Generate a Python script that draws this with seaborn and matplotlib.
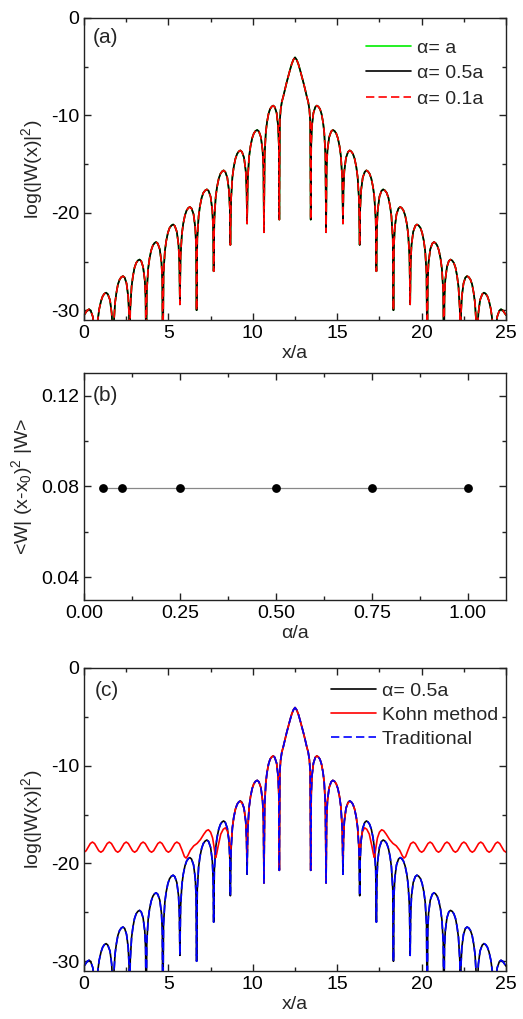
import matplotlib
matplotlib.use("Agg")
import matplotlib.pyplot as plt
from matplotlib.ticker import MultipleLocator, FormatStrFormatter
import seaborn as sns

# ---- panel (a)/(c): log(|W(x)|^2), all alpha curves coincide ----
x_w = [
    0.00, 0.10, 0.20, 0.30, 0.40, 0.52, 0.62, 0.67, 0.70,
    0.74, 0.82, 0.90, 1.01, 1.11, 1.21, 1.31, 1.41, 1.54, 1.64, 1.69, 1.72,
    1.76, 1.84, 1.92, 2.01, 2.11, 2.21, 2.31, 2.41, 2.52, 2.62, 2.67, 2.70,
    2.74, 2.82, 2.90, 2.99, 3.09, 3.19, 3.29, 3.39, 3.50, 3.60, 3.65, 3.68,
    3.72, 3.80, 3.88, 3.98, 4.08, 4.18, 4.27, 4.37, 4.49, 4.59, 4.64, 4.67,
    4.71, 4.79, 4.87, 4.97, 5.07, 5.18, 5.28, 5.38, 5.50, 5.60, 5.65, 5.68,
    5.72, 5.80, 5.88, 5.98, 6.08, 6.18, 6.27, 6.37, 6.49, 6.59, 6.64, 6.67,
    6.71, 6.79, 6.87, 6.97, 7.07, 7.18, 7.28, 7.38, 7.50, 7.60, 7.65, 7.68,
    7.72, 7.80, 7.88, 7.98, 8.08, 8.18, 8.27, 8.37, 8.49, 8.59, 8.64, 8.67,
    8.71, 8.79, 8.87, 8.97, 9.07, 9.17, 9.26, 9.36, 9.48, 9.58, 9.63, 9.66,
    9.70, 9.78, 9.86, 9.96, 10.06, 10.16, 10.26, 10.36, 10.48, 10.58, 10.63, 10.66,
    10.70, 10.77, 10.84, 10.93, 11.02, 11.12, 11.21, 11.30, 11.41, 11.50, 11.54, 11.57,
    11.60, 11.65, 11.72, 11.80, 11.90, 12.00, 12.10, 12.20, 12.30, 12.40, 12.50,
    12.60, 12.70, 12.80, 12.90, 13.00, 13.10, 13.20, 13.28, 13.35, 13.40, 13.43,
    13.46, 13.50, 13.59, 13.70, 13.79, 13.88, 13.98, 14.07, 14.16, 14.23, 14.30, 14.34,
    14.37, 14.42, 14.52, 14.64, 14.74, 14.84, 14.94, 15.04, 15.14, 15.22, 15.30, 15.34,
    15.37, 15.42, 15.52, 15.64, 15.74, 15.83, 15.93, 16.03, 16.13, 16.21, 16.29, 16.33,
    16.36, 16.41, 16.51, 16.63, 16.73, 16.82, 16.92, 17.02, 17.12, 17.20, 17.28, 17.32,
    17.35, 17.40, 17.50, 17.62, 17.72, 17.82, 17.93, 18.03, 18.13, 18.21, 18.29, 18.33,
    18.36, 18.41, 18.51, 18.63, 18.73, 18.82, 18.92, 19.02, 19.12, 19.20, 19.28, 19.32,
    19.35, 19.40, 19.50, 19.62, 19.72, 19.82, 19.93, 20.03, 20.13, 20.21, 20.29, 20.33,
    20.36, 20.41, 20.51, 20.63, 20.73, 20.82, 20.92, 21.02, 21.12, 21.20, 21.28, 21.32,
    21.35, 21.40, 21.50, 21.61, 21.71, 21.81, 21.91, 22.01, 22.10, 22.18, 22.26, 22.30,
    22.33, 22.38, 22.48, 22.59, 22.69, 22.79, 22.89, 22.99, 23.08, 23.16, 23.24, 23.28,
    23.31, 23.36, 23.46, 23.59, 23.69, 23.79, 23.89, 23.99, 24.10, 24.18, 24.26, 24.30,
    24.33, 24.38, 24.48, 24.60, 24.70, 24.80, 24.90, 25.00,
]
logw = [
    -30.5, -30.25, -30.0, -29.9, -30.05, -30.65, -32.0, -33.85, -36.0,
    -33.25, -30.95, -29.9, -29.05, -28.55, -28.3, -28.2, -28.35, -28.95, -30.3, -32.15, -36.0,
    -31.55, -29.25, -28.2, -27.35, -26.85, -26.6, -26.5, -26.65, -27.25, -28.6, -30.45, -36.0,
    -29.85, -27.55, -26.5, -25.65, -25.15, -24.9, -24.8, -24.95, -25.55, -26.9, -28.75, -36.0,
    -28.05, -25.75, -24.7, -23.85, -23.35, -23.1, -23.0, -23.15, -23.75, -25.1, -26.95, -36.0,
    -26.25, -23.95, -22.9, -22.05, -21.55, -21.3, -21.2, -21.35, -21.95, -23.3, -25.15, -29.4,
    -24.45, -22.15, -21.1, -20.25, -19.75, -19.5, -19.4, -19.55, -20.15, -21.5, -23.35, -30.0,
    -22.65, -20.35, -19.3, -18.45, -17.95, -17.7, -17.6, -17.75, -18.35, -19.7, -21.55, -26.0,
    -20.7, -18.4, -17.35, -16.5, -16.0, -15.75, -15.65, -15.8, -16.4, -17.75, -19.6, -23.3,
    -18.65, -16.35, -15.3, -14.45, -13.95, -13.7, -13.6, -13.75, -14.35, -15.7, -17.55, -21.1,
    -16.55, -14.25, -13.2, -12.35, -11.85, -11.6, -11.5, -11.65, -12.25, -13.6, -15.45, -22.0,
    -14.05, -11.75, -10.7, -9.85, -9.35, -9.1, -9.0, -9.15, -9.75, -11.1, -12.95, -20.7,
    -10.6, -9.4, -8.6, -8.1, -7.35, -6.65, -6.0, -5.35, -4.75, -4.3, -4.05,
    -4.3, -4.75, -5.35, -6.0, -6.65, -7.35, -8.1, -8.6, -9.4, -10.6, -20.7,
    -12.95, -11.1, -9.75, -9.15, -9.0, -9.1, -9.35, -9.85, -10.7, -11.75, -14.05, -22.0,
    -15.45, -13.6, -12.25, -11.65, -11.5, -11.6, -11.85, -12.35, -13.2, -14.25, -16.55, -21.1,
    -17.55, -15.7, -14.35, -13.75, -13.6, -13.7, -13.95, -14.45, -15.3, -16.35, -18.65, -23.3,
    -19.6, -17.75, -16.4, -15.8, -15.65, -15.75, -16.0, -16.5, -17.35, -18.4, -20.7, -26.0,
    -21.55, -19.7, -18.35, -17.75, -17.6, -17.7, -17.95, -18.45, -19.3, -20.35, -22.65, -30.0,
    -23.35, -21.5, -20.15, -19.55, -19.4, -19.5, -19.75, -20.25, -21.1, -22.15, -24.45, -29.4,
    -25.15, -23.3, -21.95, -21.35, -21.2, -21.3, -21.55, -22.05, -22.9, -23.95, -26.25, -36.0,
    -26.95, -25.1, -23.75, -23.15, -23.0, -23.1, -23.35, -23.85, -24.7, -25.75, -28.05, -36.0,
    -28.75, -26.9, -25.55, -24.95, -24.8, -24.9, -25.15, -25.65, -26.5, -27.55, -29.85, -36.0,
    -30.45, -28.6, -27.25, -26.65, -26.5, -26.6, -26.85, -27.35, -28.2, -29.25, -31.55, -36.0,
    -32.15, -30.3, -28.95, -28.35, -28.2, -28.3, -28.55, -29.05, -29.9, -30.95, -33.25, -36.0,
    -33.85, -32.0, -30.65, -30.05, -29.9, -30.0, -30.25, -30.5,
]

# ---- panel (c): Kohn method, flat oscillating tails ----
kohn_left_x = [
    0.0, 0.125, 0.25, 0.375, 0.5, 0.625, 0.75, 0.875,
    1.0, 1.125, 1.25, 1.375, 1.5, 1.625, 1.75, 1.875,
    2.0, 2.125, 2.25, 2.375, 2.5, 2.625, 2.75, 2.875,
    3.0, 3.125, 3.25, 3.375, 3.5, 3.625, 3.75, 3.875,
    4.0, 4.125, 4.25, 4.375, 4.5, 4.625, 4.75, 4.875,
    5.0, 5.125, 5.25, 5.375, 5.5,
    5.65, 5.8, 5.95, 6.05, 6.15, 6.3, 6.5, 6.7, 6.9, 7.1, 7.25, 7.37,
    7.5, 7.62, 7.72, 7.8, 7.86, 7.95, 8.1, 8.25, 8.38, 8.5, 8.58,
    8.64, 8.67, 8.71, 8.79, 8.87, 8.97, 9.07, 9.17, 9.26, 9.36, 9.48, 9.58, 9.63, 9.66,
]
kohn_left_y = [
    -18.85, -18.70, -18.33, -17.96, -17.81, -17.96, -18.33, -18.70,
    -18.85, -18.70, -18.33, -17.96, -17.81, -17.96, -18.33, -18.70,
    -18.85, -18.70, -18.33, -17.96, -17.81, -17.96, -18.33, -18.70,
    -18.85, -18.70, -18.33, -17.96, -17.81, -17.96, -18.33, -18.70,
    -18.85, -18.70, -18.33, -17.96, -17.81, -17.96, -18.33, -18.70,
    -18.85, -18.70, -18.33, -17.96, -17.81,
    -17.98, -18.6, -19.3, -19.45, -19.2, -18.65, -18.2, -17.95, -17.55, -17.0, -16.65, -16.55,
    -16.8, -17.4, -18.5, -19.4, -19.0, -18.2, -17.0, -16.5, -16.35, -16.7, -17.4,
    -18.5, -19.3, -18.2, -16.35, -15.3, -14.45, -13.95, -13.7, -13.65, -13.8, -14.35, -15.7,
    -17.55, -19.8,
]
kohn_right_x = [
    15.34, 15.37, 15.42, 15.52, 15.64, 15.74, 15.83, 15.93, 16.03, 16.13, 16.21, 16.29, 16.33,
    16.36, 16.42, 16.5, 16.62, 16.75, 16.9, 17.05, 17.14, 17.2, 17.28,
    17.38, 17.5, 17.63, 17.75, 17.9, 18.1, 18.3, 18.5, 18.7, 18.85,
    18.95, 19.05, 19.2, 19.35,
    19.5, 19.625, 19.75, 19.875,
    20.0, 20.125, 20.25, 20.375, 20.5, 20.625, 20.75, 20.875,
    21.0, 21.125, 21.25, 21.375, 21.5, 21.625, 21.75, 21.875,
    22.0, 22.125, 22.25, 22.375, 22.5, 22.625, 22.75, 22.875,
    23.0, 23.125, 23.25, 23.375, 23.5, 23.625, 23.75, 23.875,
    24.0, 24.125, 24.25, 24.375, 24.5, 24.625, 24.75, 24.875, 25.0,
]
kohn_right_y = [
    -19.8, -17.55, -15.7, -14.35, -13.8, -13.65, -13.7, -13.95, -14.45, -15.3, -16.35, -18.2, -19.3,
    -18.5, -17.4, -16.7, -16.35, -16.5, -17.0, -18.2, -19.0, -19.4, -18.5,
    -17.4, -16.8, -16.55, -16.65, -17.0, -17.55, -17.95, -18.2, -18.65, -19.2,
    -19.45, -19.3, -18.6, -17.98,
    -17.81, -17.96, -18.33, -18.70,
    -18.85, -18.70, -18.33, -17.96, -17.81, -17.96, -18.33, -18.70,
    -18.85, -18.70, -18.33, -17.96, -17.81, -17.96, -18.33, -18.70,
    -18.85, -18.70, -18.33, -17.96, -17.81, -17.96, -18.33, -18.70,
    -18.85, -18.70, -18.33, -17.96, -17.81, -17.96, -18.33, -18.70,
    -18.85, -18.70, -18.33, -17.96, -17.81, -17.96, -18.33, -18.70, -18.85,
]

# ---- panel (b) ----
alpha_over_a = [0.05, 0.10, 0.25, 0.50, 0.75, 1.00]
spread = [0.0794, 0.0794, 0.0794, 0.0794, 0.0794, 0.0794]

# the Kohn curve equals the others in the central region
mid = [(x, y) for x, y in zip(x_w, logw) if 9.68 < x < 15.32]
kohn_x = kohn_left_x + [p[0] for p in mid] + kohn_right_x
kohn_y = kohn_left_y + [p[1] for p in mid] + kohn_right_y

sns.set_theme(style="ticks")
plt.rcParams["font.family"] = ["Liberation Sans", "DejaVu Sans"]
plt.rcParams["mathtext.fontset"] = "custom"
plt.rcParams["mathtext.rm"] = "Liberation Sans"
plt.rcParams["mathtext.it"] = "Liberation Sans:italic"
plt.rcParams["axes.unicode_minus"] = False
plt.rcParams["axes.linewidth"] = 1.0
plt.rcParams["axes.edgecolor"] = "#222222"

FS = 14
LEG_FS = 14
dash = (0, (5, 2.5))


def style_axes(ax):
    ax.tick_params(which="both", direction="in", top=True, right=True,
                   labelsize=FS, width=1.0, colors="#222222", labelcolor="black")
    ax.tick_params(which="major", length=5)
    ax.tick_params(which="minor", length=3)


fig = plt.figure(figsize=(5.23, 10.19), dpi=100)
ax_a = fig.add_axes([0.1606, 0.686, 0.807, 0.2964])
ax_b = fig.add_axes([0.1606, 0.4112, 0.807, 0.2228])
ax_c = fig.add_axes([0.1606, 0.0471, 0.807, 0.2974])

# (a)
sns.lineplot(x=x_w, y=logw, ax=ax_a, estimator=None, sort=False,
             color="#00ee00", lw=1.2, label="α= a")
sns.lineplot(x=x_w, y=logw, ax=ax_a, estimator=None, sort=False,
             color="black", lw=1.2, label="α= 0.5a")
sns.lineplot(x=x_w, y=logw, ax=ax_a, estimator=None, sort=False,
             color="#ff0000", lw=1.2, linestyle=dash, label="α= 0.1a")
ax_a.set_xlim(0, 25)
ax_a.set_ylim(-31, 0)
ax_a.xaxis.set_major_locator(MultipleLocator(5))
ax_a.xaxis.set_minor_locator(MultipleLocator(2.5))
ax_a.yaxis.set_major_locator(MultipleLocator(10))
ax_a.yaxis.set_minor_locator(MultipleLocator(5))
ax_a.set_xlabel("x/a", fontsize=FS, labelpad=2)
ax_a.set_ylabel("log(|W(x)|$^2$)", fontsize=FS, labelpad=4)
ax_a.text(0.02, 0.935, "(a)", transform=ax_a.transAxes, fontsize=FS + 1, va="center")
ax_a.legend(loc="upper right", bbox_to_anchor=(0.964, 0.955), frameon=False,
            fontsize=LEG_FS, handlelength=2.3, labelspacing=0.4,
            handletextpad=0.3, borderaxespad=0)
style_axes(ax_a)

# (b)
sns.lineplot(x=alpha_over_a, y=spread, ax=ax_b, estimator=None, sort=False,
             color="#888888", lw=0.9)
sns.scatterplot(x=alpha_over_a, y=spread, ax=ax_b, color="black", s=40,
                edgecolor="black", linewidth=0, zorder=3)
ax_b.set_xlim(0, 1.1)
ax_b.set_ylim(0.03, 0.13)
ax_b.set_xticks([0, 0.25, 0.5, 0.75, 1.0])
ax_b.xaxis.set_minor_locator(MultipleLocator(0.125))
ax_b.set_yticks([0.04, 0.08, 0.12])
ax_b.yaxis.set_minor_locator(MultipleLocator(0.02))
ax_b.xaxis.set_major_formatter(FormatStrFormatter("%.2f"))
ax_b.yaxis.set_major_formatter(FormatStrFormatter("%.2f"))
ax_b.set_xlabel("α/a", fontsize=FS, labelpad=2)
ax_b.set_ylabel("<W| (x-x$_0$)$^2$ |W>", fontsize=FS, labelpad=4)
ax_b.text(0.02, 0.9, "(b)", transform=ax_b.transAxes, fontsize=FS + 1, va="center")
style_axes(ax_b)

# (c)
sns.lineplot(x=x_w, y=logw, ax=ax_c, estimator=None, sort=False,
             color="black", lw=1.2, label="α= 0.5a")
sns.lineplot(x=kohn_x, y=kohn_y, ax=ax_c, estimator=None, sort=False,
             color="#ff0000", lw=1.2, label="Kohn method")
sns.lineplot(x=x_w, y=logw, ax=ax_c, estimator=None, sort=False,
             color="#0000ff", lw=1.2, linestyle=dash, label="Traditional")
ax_c.set_xlim(0, 25)
ax_c.set_ylim(-31, 0)
ax_c.xaxis.set_major_locator(MultipleLocator(5))
ax_c.xaxis.set_minor_locator(MultipleLocator(2.5))
ax_c.yaxis.set_major_locator(MultipleLocator(10))
ax_c.yaxis.set_minor_locator(MultipleLocator(5))
ax_c.set_xlabel("x/a", fontsize=FS, labelpad=2)
ax_c.set_ylabel("log(|W(x)|$^2$)", fontsize=FS, labelpad=4)
ax_c.text(0.025, 0.925, "(c)", transform=ax_c.transAxes, fontsize=FS + 1, va="center")
ax_c.legend(loc="upper right", bbox_to_anchor=(1.0, 0.978), frameon=False,
            fontsize=LEG_FS, handlelength=2.3, labelspacing=0.32,
            handletextpad=0.3, borderaxespad=0)
style_axes(ax_c)

fig.savefig("out.png", dpi=100)
plt.close(fig)
